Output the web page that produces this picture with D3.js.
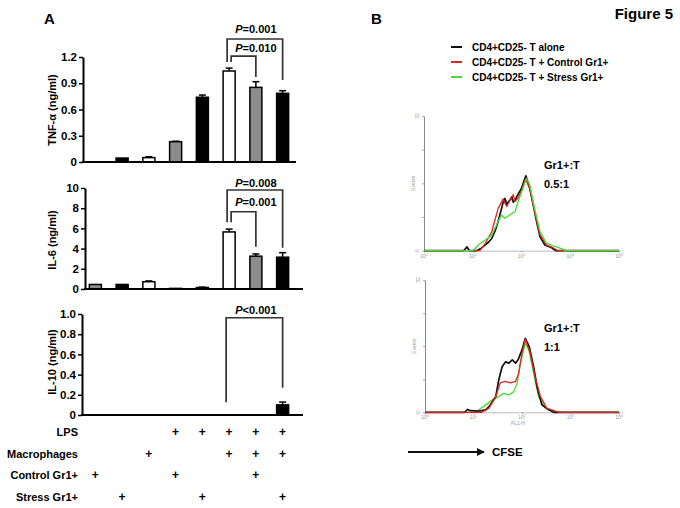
<!DOCTYPE html>
<html><head><meta charset="utf-8">
<script src="https://cdn.jsdelivr.net/npm/d3@7"></script>
<style>body{margin:0;background:#fff} svg{display:block;font-family:"Liberation Sans",Arial,sans-serif}</style>
</head><body><svg id="c" width="680" height="508"></svg>
<script>
// ---------- Panel A data ----------
const categories = ["c1","c2","c3","c4","c5","c6","c7","c8"];
const barFill = ["gray","black","white","gray","black","white","gray","black"];
const tnf    = [0, 0.045, 0.05, 0.232, 0.74, 1.04, 0.853, 0.785];
const tnfErr = [0, 0, 0.01, 0.005, 0.025, 0.033, 0.065, 0.03];
const il6    = [0.45, 0.45, 0.72, 0.06, 0.15, 5.65, 3.25, 3.15];
const il6Err = [0, 0, 0.08, 0, 0.03, 0.28, 0.22, 0.45];
const il10    = [0, 0, 0, 0, 0, 0, 0, 0.1];
const il10Err = [0, 0, 0, 0, 0, 0, 0, 0.028];
const tnfTicks = [0, 0.3, 0.6, 0.9, 1.2];
const tnfTickLabels = ["0","0.3","0.6","0.9","1.2"];
const il6Ticks = [0, 2, 4, 6, 8, 10];
const il6TickLabels = ["0","2","4","6","8","10"];
const il10Ticks = [0, 0.2, 0.4, 0.6, 0.8, 1.0];
const il10TickLabels = ["0","0.2","0.4","0.6","0.8","1.0"];
// significance brackets (bar indices and heights in data units)
const tnfBrackets = [
  {from:5, to:7, top:1.406, left:1.143, right:0.937, text:"=0.001", labelAt:1.474, lo:-2},
  {from:5, to:6, top:1.211, left:1.143, right:0.971, text:"=0.010", labelAt:1.257, lo:2}
];
const il6Brackets = [
  {from:5, to:7, top:9.8, left:6.6, right:4.09, text:"=0.008", labelAt:10.13, lo:-2},
  {from:5, to:6, top:7.65, left:6.6, right:4.19, text:"=0.001", labelAt:8.25, lo:2}
];
const il10Brackets = [
  {from:5, to:7, top:0.963, left:0.126, right:0.27, text:"<0.001", labelAt:1.0, lo:-3}
];
// treatment table
const rowLabels = ["LPS","Macrophages","Control Gr1+","Stress Gr1+"];
const lpsRow    = [0,0,0,1,1,1,1,1];
const macroRow  = [0,0,1,0,0,1,1,1];
const ctrlRow   = [1,0,0,1,0,0,1,0];
const stressRow = [0,1,0,0,1,0,0,1];

// ---------- Panel B data (FL1-H intensity, events) ----------
const legendLabels = ["CD4+CD25- T alone","CD4+CD25- T + Control Gr1+","CD4+CD25- T + Stress Gr1+"];
const legendColors = ["#111111","#e02424","#44dd33"];
const histTicks = [1,10,100,1000,10000];
const histTickLabels = ["0","1","2","3","4"];
const h05Black = [[1,0],[6.5,0],[7.6,0.9],[8.6,0],[12,0],[15,0.6],[17.8,1.35],[21,2],[24.5,2.9],[29,4.8],[33.1,6.9],[38.9,10],[42,11.5],[45.7,12.4],[50,11],[53.7,11.6],[58,12],[63.1,12.8],[68,11.5],[74.1,12],[83.2,13.2],[100,14.8],[112,16.5],[123,17.8],[135,16.2],[148,14.8],[174,10.9],[204,6.9],[240,3.3],[302,1.35],[417,0.7],[500,0],[10000,0]];
const h05Red = [[1,0],[14,0],[17.8,1.6],[24.5,4.5],[33.1,10],[38.9,11.6],[42,12.3],[45.7,11.3],[50,10.5],[57.5,12],[63.1,12.6],[67.6,13.3],[74.1,11.7],[85,12.5],[100,14.2],[112,16],[123,17],[135,15.8],[148,14.8],[186,9.3],[240,3.8],[324,1.4],[447,0.7],[550,0],[10000,0]];
const h05Green = [[1,0],[10,0],[13.2,1.4],[17.8,2.5],[24.5,3.7],[33.1,6.9],[38.9,8.5],[45.7,7.7],[57.5,8.5],[74.1,9.3],[85.1,11.6],[107,14.8],[126,17.2],[148,15.6],[186,10],[240,4.5],[324,1.8],[490,1],[661,0.5],[800,0],[10000,0]];
const h1Black = [[1,0],[6.5,0],[7.6,0.7],[8.6,0.4],[12.9,0.3],[17.8,0.6],[20.9,1.35],[28.8,3.8],[33.1,7.8],[38.9,11],[45.7,12.2],[53.7,11.9],[63.1,12.7],[74.1,11.9],[83.2,12.7],[100,15.1],[117,17.9],[141,15.9],[174,11],[204,6.2],[257,1.8],[355,0.6],[450,0],[10000,0]];
const h1Red = [[1,0],[15,0],[20.9,1],[28.8,3.8],[35.5,7.1],[45.7,7.5],[57.5,7.1],[74.1,7.5],[85.1,9.4],[100,14.3],[117,17.7],[148,14.3],[186,8.6],[240,3.8],[324,1],[490,0.3],[600,0],[10000,0]];
const h1Green = [[1,0],[10,0],[12.9,0.6],[17.8,1.8],[24.5,3],[33.1,3.8],[41.7,4.6],[53.7,4.2],[67.6,5],[79.4,7],[93.3,11.9],[117,16.7],[138,15.1],[174,9.4],[219,3.8],[302,1],[447,0.3],[550,0],[10000,0]];

// ---------- drawing ----------
const svg = d3.select("#c");
const fillMap = {gray:"#8c8c8c", black:"#000", white:"#fff"};
const x = d3.scaleBand().domain(categories).range([82,296]).paddingInner(0.55).paddingOuter(0.275);
const cx = i => x(categories[i]) + x.bandwidth()/2;

function barPanel(vals, errs, ticks, tickLabels, brackets, yDomMax, yBottom, yTop, axisX, xEnd, label, labelY){
  const y = d3.scaleLinear().domain([0, yDomMax]).range([yBottom, yTop]);
  const g = svg.append("g");
  // y axis
  const ax = g.append("g").attr("transform",`translate(${axisX},0)`)
    .call(d3.axisLeft(y).tickValues(ticks).tickFormat((d,i)=>tickLabels[i]).tickSize(4).tickSizeOuter(0));
  ax.select(".domain").attr("stroke","#000").attr("stroke-width",2);
  ax.selectAll(".tick line").attr("stroke","#000").attr("stroke-width",1.5);
  ax.selectAll(".tick text").attr("font-size",11.5).attr("font-weight","bold").attr("fill","#000")
    .attr("font-family","Liberation Sans, Arial, sans-serif").attr("x",-6);
  // label
  g.append("text").attr("transform",`translate(52,${labelY}) rotate(-90)`).attr("text-anchor","middle")
    .attr("dominant-baseline","central").attr("font-size",11).attr("font-weight","bold").text(label);
  // bars
  categories.forEach((c,i)=>{
    if (vals[i] <= 0) return;
    const v = vals[i], e = errs[i];
    if (e > 0){
      g.append("line").attr("x1",cx(i)).attr("x2",cx(i)).attr("y1",y(v)).attr("y2",y(v+e)).attr("stroke","#000").attr("stroke-width",1.5);
      g.append("line").attr("x1",cx(i)-3.5).attr("x2",cx(i)+3.5).attr("y1",y(v+e)).attr("y2",y(v+e)).attr("stroke","#000").attr("stroke-width",1.5);
    }
    g.append("rect").attr("x",x(c)).attr("width",x.bandwidth()).attr("y",y(v)).attr("height",Math.max(0,y(0)-y(v)))
      .attr("fill",fillMap[barFill[i]]).attr("stroke","#000").attr("stroke-width",1.5);
  });
  // x axis line
  g.append("line").attr("x1",axisX-1).attr("x2",xEnd).attr("y1",y(0)).attr("y2",y(0)).attr("stroke","#000").attr("stroke-width",2);
  // brackets
  brackets.forEach(b=>{
    const xl = cx(b.from)+b.lo, xr = cx(b.to);
    g.append("path").attr("d",`M${xl},${y(b.left)}V${y(b.top)}H${xr}V${y(b.right)}`)
      .attr("fill","none").attr("stroke","#333").attr("stroke-width",1.7);
    const t = g.append("text").attr("x",(cx(5)+cx(7))/2).attr("y",y(b.labelAt)).attr("text-anchor","middle")
      .attr("font-size",11).attr("font-weight","bold");
    t.append("tspan").attr("font-style","italic").text("P");
    t.append("tspan").text(b.text);
  });
}

barPanel(tnf, tnfErr, tnfTicks, tnfTickLabels, tnfBrackets, 1.2, 162, 57, 83, 296, "TNF-α (ng/ml)", 110);
barPanel(il6, il6Err, il6Ticks, il6TickLabels, il6Brackets, 10, 289, 188, 85, 303, "IL-6 (ng/ml)", 240);
barPanel(il10, il10Err, il10Ticks, il10TickLabels, il10Brackets, 1.0, 415, 314, 82, 303, "IL-10 (ng/ml)", 362);

// panel letter
svg.append("text").attr("x",44).attr("y",24).attr("font-size",15).attr("font-weight","bold").text("A");
svg.append("text").attr("x",371).attr("y",24).attr("font-size",15).attr("font-weight","bold").text("B");
svg.append("text").attr("x",673).attr("y",19).attr("text-anchor","end").attr("font-size",15).attr("font-weight","bold").text("Figure 5");

// treatment table
const rowY = d3.scalePoint().domain(rowLabels).range([432,497]);
const rows = [lpsRow, macroRow, ctrlRow, stressRow];
rowLabels.forEach((r,ri)=>{
  svg.append("text").attr("x",78).attr("y",rowY(r)).attr("text-anchor","end").attr("dominant-baseline","central")
    .attr("font-size",11).attr("font-weight","bold").text(r);
  rows[ri].forEach((v,i)=>{
    if (!v) return;
    svg.append("text").attr("x",cx(i)).attr("y",rowY(r)).attr("text-anchor","middle").attr("dominant-baseline","central")
      .attr("font-size",12).attr("font-weight","bold").text("+");
  });
});

// legend
legendLabels.forEach((l,i)=>{
  const yy = 47 + i*15;
  svg.append("line").attr("x1",451).attr("x2",462).attr("y1",yy).attr("y2",yy).attr("stroke",legendColors[i]).attr("stroke-width",2);
  svg.append("text").attr("x",472).attr("y",yy).attr("dominant-baseline","central").attr("font-size",10).attr("font-weight","bold").text(l);
});

// histograms
function hist(series, colors, order, x0, x1, yBase, yTop, ratio, showFL){
  const hx = d3.scaleLog().domain([1,10000]).range([x0,x1]);
  const hy = d3.scaleLinear().domain([0,32]).range([yBase,yTop]);
  const g = svg.append("g");
  // x axis
  const xa = g.append("g").attr("transform",`translate(0,${yBase})`)
    .call(d3.axisBottom(hx).tickValues(histTicks).tickFormat("").tickSize(2).tickSizeOuter(0));
  xa.select(".domain").attr("stroke","#bbb");
  xa.selectAll(".tick line").attr("stroke","#aaa");
  histTicks.forEach((t,i)=>{
    const tx = g.append("text").attr("x",hx(t)).attr("y",yBase+7).attr("text-anchor","middle").attr("font-size",5).attr("fill","#999");
    tx.append("tspan").text("10");
    tx.append("tspan").attr("dy",-2).attr("font-size",3.5).text(histTickLabels[i]);
  });
  // y axis
  const ya = g.append("g").attr("transform",`translate(${x0},0)`)
    .call(d3.axisLeft(hy).tickValues([0,8,16,24,32]).tickFormat("").tickSize(2).tickSizeOuter(0));
  ya.select(".domain").attr("stroke","#888");
  ya.selectAll(".tick line").attr("stroke","#aaa");
  [[0,"0"],[32,"32"]].forEach(([v,s])=>{
    g.append("text").attr("transform",`translate(${x0-5},${hy(v)}) rotate(-90)`).attr("text-anchor","middle")
      .attr("font-size",5).attr("fill","#999").text(s);
  });
  g.append("text").attr("transform",`translate(${x0-9},${hy(16)}) rotate(-90)`).attr("text-anchor","middle")
    .attr("font-size",5).attr("fill","#999").text("Events");
  if (showFL) g.append("text").attr("x",hx(100)-4).attr("y",yBase+13).attr("text-anchor","middle").attr("font-size",5).attr("fill","#999").text("FL1-H");
  const line = d3.line().x(d=>hx(d[0])).y(d=>hy(d[1]));
  order.forEach(k=>{
    g.append("path").attr("d",line(series[k])).attr("fill","none").attr("stroke",colors[k])
      .attr("stroke-width", k===0 ? 1.7 : 1.3).attr("stroke-linejoin","round");
  });
  g.append("text").attr("x",544).attr("y",hy(19.5)).attr("font-size",11).attr("font-weight","bold").text("Gr1+:T");
  g.append("text").attr("x",544).attr("y",hy(14.8)).attr("font-size",11).attr("font-weight","bold").text(ratio);
}
hist([h05Black,h05Red,h05Green], legendColors, [0,1,2], 424, 619, 250.7, 116, "0.5:1", false);
hist([h1Black,h1Red,h1Green], legendColors, [2,0,1], 425, 619, 412.3, 280, "1:1", true);

// CFSE arrow
svg.append("defs").append("marker").attr("id","arr").attr("viewBox","0 0 10 10").attr("refX",9).attr("refY",5)
  .attr("markerWidth",4).attr("markerHeight",4).attr("orient","auto")
  .append("path").attr("d","M0,0L10,5L0,10z").attr("fill","#111");
svg.append("line").attr("x1",408).attr("x2",484).attr("y1",452).attr("y2",452).attr("stroke","#111").attr("stroke-width",2).attr("marker-end","url(#arr)");
svg.append("text").attr("x",492).attr("y",452).attr("dominant-baseline","central").attr("font-size",11.5).attr("font-weight","bold").text("CFSE");
</script></body></html>
